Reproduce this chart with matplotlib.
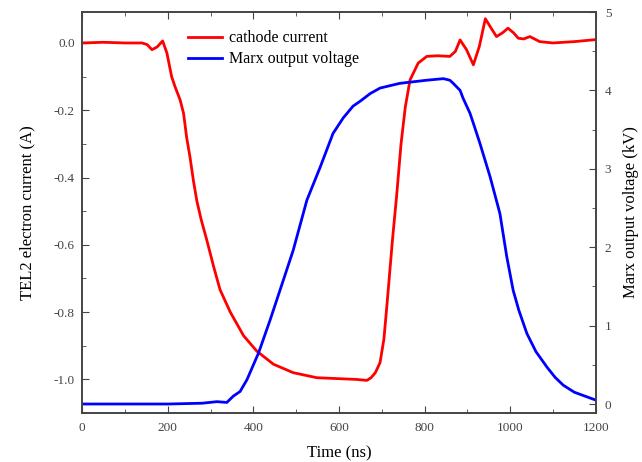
import matplotlib
matplotlib.use('Agg')
import matplotlib.pyplot as plt
from matplotlib.ticker import MultipleLocator

plt.rcParams['font.family'] = 'Liberation Serif'

# cathode current (A)
t_cur = [0, 50, 100, 140, 152, 163, 175, 188, 198, 209, 217, 229, 237, 244, 252, 260, 268,
         278, 291, 307, 322, 346, 377, 408, 447, 493, 548, 602, 640, 665, 675, 685, 696, 705,
         712, 725, 735, 745, 755, 766, 785, 805, 830, 859, 872, 883, 898, 914, 928, 942, 955,
         968, 982, 995, 1008, 1019, 1032, 1046, 1069, 1100, 1150, 1200]
cur = [0.0, 0.002, 0.0, 0.0, -0.005, -0.02, -0.012, 0.006, -0.03, -0.10, -0.13, -0.17,
       -0.21, -0.28, -0.34, -0.41, -0.47, -0.525, -0.585, -0.664, -0.733, -0.80, -0.87,
       -0.916, -0.955, -0.98, -0.995, -0.998, -1.0, -1.003, -0.995, -0.98, -0.95, -0.88,
       -0.78, -0.585, -0.45, -0.30, -0.19, -0.11, -0.06, -0.04, -0.038, -0.04, -0.025, 0.009,
       -0.02, -0.065, -0.01, 0.072, 0.045, 0.019, 0.03, 0.044, 0.03, 0.014, 0.012, 0.019,
       0.004, 0.0, 0.004, 0.01]

# Marx output voltage (kV)
t_v = [0, 100, 200, 280, 315, 338, 353, 369, 385, 412, 439, 470, 493, 525, 556, 586, 610,
       633, 649, 673, 696, 742, 805, 844, 859, 867, 883, 890, 906, 914, 929, 953, 976, 992,
       1007, 1020, 1039, 1060, 1086, 1105, 1124, 1150, 1180, 1200]
volt = [0.0, 0.0, 0.0, 0.01, 0.03, 0.02, 0.1, 0.16, 0.31, 0.65, 1.07, 1.58, 1.96, 2.6,
        3.02, 3.45, 3.65, 3.8, 3.86, 3.96, 4.03, 4.09, 4.13, 4.15, 4.13, 4.09, 4.0, 3.9,
        3.71, 3.58, 3.33, 2.9, 2.43, 1.88, 1.45, 1.2, 0.9, 0.67, 0.47, 0.34, 0.24, 0.15,
        0.09, 0.05]

fig, ax = plt.subplots(figsize=(6.42, 4.62), dpi=100)
plt.subplots_adjust(left=0.128, right=0.928, top=0.974, bottom=0.106)
ax2 = ax.twinx()

l1, = ax.plot(t_cur, cur, c='#ff0000', linewidth=2, label='cathode current')
l2, = ax2.plot(t_v, volt, c='#0000ff', linewidth=2, label='Marx output voltage')

ax.set_xlim([0, 1200])
ax.set_ylim([-1.1, 0.092])
ax2.set_ylim([-0.115, 5.0])

ax.xaxis.set_major_locator(MultipleLocator(200))
ax.xaxis.set_minor_locator(MultipleLocator(100))
ax.yaxis.set_major_locator(MultipleLocator(0.2))
ax.yaxis.set_minor_locator(MultipleLocator(0.1))
ax2.yaxis.set_major_locator(MultipleLocator(1))
ax2.yaxis.set_minor_locator(MultipleLocator(0.5))
ax.yaxis.set_major_formatter(plt.FuncFormatter(lambda v, p: '%.1f' % v))

ax.tick_params(axis='both', which='both', direction='in', top=True, labelsize=9.5,
               colors='#444444')
ax.tick_params(which='major', length=5)
ax.tick_params(which='minor', length=3)
ax.tick_params(axis='x', which='major', pad=6.8)
ax.tick_params(axis='y', which='major', pad=5.3)
ax2.tick_params(axis='y', which='both', direction='in', labelsize=9.5, colors='#444444')
ax2.tick_params(which='major', length=5, pad=6.5)
ax2.tick_params(which='minor', length=3)

for a in (ax, ax2):
    for s in a.spines.values():
        s.set_color('#444444')
        s.set_linewidth(1.2)

ax.set_xlabel('Time (ns)', fontsize=12, labelpad=8)
ax.set_ylabel('TEL2 electron current (A)', fontsize=12, labelpad=13)
ax2.set_ylabel('Marx output voltage (kV)', fontsize=12, labelpad=8.5)

fig.legend([l1, l2], ['cathode current', 'Marx output voltage'], loc='upper left',
           bbox_to_anchor=(188 / 642, 1 - 30.5 / 462), frameon=False, fontsize=11.5,
           borderpad=0, borderaxespad=0, handlelength=2.1, handletextpad=0.45,
           labelspacing=0.3)

plt.savefig('out.png')
